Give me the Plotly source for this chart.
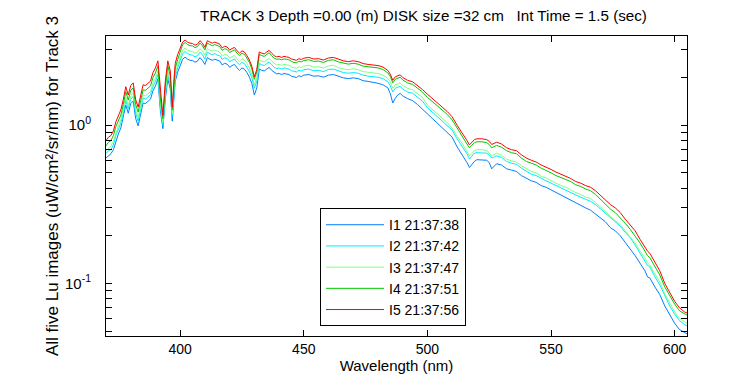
import math
import plotly.graph_objects as go

wavelength = [370, 371, 372, 373, 374, 375, 376, 377, 378, 379, 380, 381, 382, 383, 384, 385, 386, 387, 388, 389,
              390, 391, 392, 393, 394, 395, 396, 396.8, 397.5, 398, 399,
              400, 401, 402, 403, 404, 405, 406, 407, 408, 409, 410, 411, 412, 413, 414, 415, 416, 417, 418, 419,
              420, 421, 422, 423, 424, 425, 426, 427, 428, 429, 430, 431, 432, 433, 434, 435, 436, 437, 438, 439,
              440, 441, 442, 443, 444, 445, 446, 447, 448, 449, 450, 452, 454, 456, 458, 460, 462, 464, 466, 468,
              470, 472, 474, 476, 478, 480, 482, 484, 485, 486, 487, 488, 489, 490, 492, 494, 496, 498,
              500, 502, 504, 506, 508, 510, 512, 514, 515, 516, 517, 518, 519, 520, 522, 524, 525, 526, 527, 528,
              530, 532, 534, 536, 538, 540, 542, 544, 546, 548, 550, 552, 554, 556, 558, 560, 562, 564, 566, 568,
              570, 572, 574, 576, 578, 580, 582, 584, 586, 588, 589, 590, 592, 594, 596, 598, 600, 602, 604, 605]

i5 = [0.80, 0.84, 0.86, 0.92, 1.05, 1.15, 1.25, 1.45, 1.75, 1.55, 1.78, 1.85, 1.45, 1.30, 1.55, 1.80, 1.78, 1.85, 1.90, 2.15,
      2.30, 2.55, 1.60, 1.15, 1.90, 2.55, 2.20, 1.30, 1.95, 2.45, 2.80,
      3.05, 3.35, 3.45, 3.35, 3.30, 3.28, 3.20, 3.25, 3.42, 3.30, 3.10, 3.42, 3.35, 3.30, 3.35, 3.28, 3.25, 3.08, 3.15, 3.12,
      2.98, 3.05, 3.10, 2.95, 2.85, 2.95, 2.90, 2.75, 2.58, 2.35, 2.02, 2.25, 2.90, 2.85, 2.82, 2.90, 2.97, 2.85, 2.75, 2.70,
      2.72, 2.68, 2.72, 2.70, 2.68, 2.62, 2.58, 2.57, 2.63, 2.60, 2.65, 2.68, 2.62, 2.63, 2.58, 2.66, 2.68, 2.60, 2.55, 2.52,
      2.55, 2.52, 2.45, 2.42, 2.40, 2.38, 2.33, 2.22, 2.10, 1.92, 2.02, 2.05, 2.08, 2.00, 1.92, 1.88, 1.78, 1.68,
      1.57, 1.48, 1.38, 1.30, 1.22, 1.13, 1.00, 0.90, 0.85, 0.80, 0.75, 0.78, 0.81, 0.82, 0.82, 0.81, 0.79, 0.755, 0.77, 0.78,
      0.76, 0.72, 0.70, 0.69, 0.65, 0.62, 0.60, 0.585, 0.56, 0.545, 0.525, 0.505, 0.49, 0.475, 0.46, 0.44, 0.43, 0.415, 0.405, 0.385,
      0.36, 0.34, 0.315, 0.30, 0.28, 0.255, 0.235, 0.215, 0.19, 0.17, 0.16, 0.155, 0.135, 0.12, 0.10, 0.087, 0.077, 0.07, 0.066, 0.065]

i4 = [0.74, 0.78, 0.80, 0.86, 0.98, 1.07, 1.16, 1.35, 1.63, 1.44, 1.66, 1.72, 1.35, 1.21, 1.44, 1.67, 1.66, 1.72, 1.77, 2.00,
      2.14, 2.37, 1.49, 1.10, 1.77, 2.37, 2.05, 1.25, 1.81, 2.28, 2.60,
      2.94, 3.23, 3.33, 3.23, 3.18, 3.17, 3.09, 3.14, 3.30, 3.18, 2.99, 3.30, 3.23, 3.18, 3.23, 3.17, 3.14, 2.97, 3.04, 3.01,
      2.88, 2.94, 2.99, 2.85, 2.75, 2.85, 2.80, 2.65, 2.49, 2.27, 1.95, 2.17, 2.80, 2.75, 2.72, 2.80, 2.87, 2.75, 2.65, 2.61,
      2.62, 2.59, 2.62, 2.61, 2.59, 2.53, 2.49, 2.48, 2.54, 2.51, 2.56, 2.59, 2.53, 2.54, 2.49, 2.57, 2.59, 2.51, 2.46, 2.43,
      2.46, 2.43, 2.36, 2.34, 2.32, 2.30, 2.25, 2.14, 2.03, 1.85, 1.95, 1.98, 2.01, 1.93, 1.85, 1.81, 1.72, 1.62,
      1.50, 1.41, 1.32, 1.24, 1.17, 1.08, 0.955, 0.86, 0.81, 0.76, 0.72, 0.745, 0.775, 0.785, 0.785, 0.775, 0.755, 0.72, 0.735, 0.745,
      0.725, 0.69, 0.67, 0.66, 0.62, 0.59, 0.575, 0.56, 0.535, 0.52, 0.50, 0.48, 0.465, 0.45, 0.44, 0.42, 0.41, 0.395, 0.385, 0.365,
      0.34, 0.32, 0.295, 0.28, 0.26, 0.24, 0.22, 0.20, 0.18, 0.16, 0.15, 0.145, 0.127, 0.113, 0.095, 0.083, 0.074, 0.067, 0.064, 0.063]

i3 = [0.69, 0.72, 0.74, 0.79, 0.90, 0.99, 1.08, 1.25, 1.50, 1.33, 1.53, 1.59, 1.25, 1.12, 1.33, 1.55, 1.53, 1.59, 1.63, 1.85,
      1.98, 2.19, 1.38, 1.04, 1.63, 2.19, 1.89, 1.18, 1.68, 2.11, 2.41,
      2.71, 2.98, 3.07, 2.98, 2.94, 2.92, 2.85, 2.89, 3.04, 2.94, 2.76, 3.04, 2.98, 2.94, 2.98, 2.92, 2.89, 2.74, 2.80, 2.78,
      2.65, 2.71, 2.76, 2.63, 2.54, 2.63, 2.58, 2.45, 2.30, 2.09, 1.80, 2.00, 2.58, 2.54, 2.51, 2.58, 2.64, 2.54, 2.45, 2.40,
      2.42, 2.39, 2.42, 2.40, 2.39, 2.33, 2.30, 2.29, 2.34, 2.31, 2.36, 2.39, 2.33, 2.34, 2.30, 2.37, 2.39, 2.31, 2.27, 2.24,
      2.27, 2.24, 2.18, 2.15, 2.14, 2.12, 2.07, 1.98, 1.87, 1.71, 1.80, 1.82, 1.85, 1.78, 1.71, 1.67, 1.58, 1.50,
      1.34, 1.26, 1.17, 1.11, 1.04, 0.96, 0.85, 0.77, 0.72, 0.68, 0.64, 0.66, 0.69, 0.70, 0.70, 0.69, 0.67, 0.64, 0.655, 0.665,
      0.645, 0.61, 0.595, 0.585, 0.555, 0.53, 0.51, 0.50, 0.475, 0.465, 0.445, 0.43, 0.415, 0.405, 0.39, 0.375, 0.365, 0.35, 0.345, 0.325,
      0.305, 0.285, 0.265, 0.25, 0.235, 0.215, 0.195, 0.18, 0.16, 0.145, 0.135, 0.13, 0.115, 0.102, 0.086, 0.075, 0.066, 0.06, 0.057, 0.056]

i2 = [0.66, 0.69, 0.70, 0.75, 0.86, 0.94, 1.03, 1.19, 1.43, 1.27, 1.46, 1.52, 1.19, 1.06, 1.27, 1.48, 1.46, 1.52, 1.56, 1.76,
      1.89, 2.09, 1.31, 1.00, 1.56, 2.09, 1.80, 1.14, 1.60, 2.01, 2.30,
      2.58, 2.83, 2.92, 2.83, 2.79, 2.77, 2.70, 2.75, 2.89, 2.79, 2.62, 2.89, 2.83, 2.79, 2.83, 2.77, 2.75, 2.60, 2.66, 2.64,
      2.52, 2.58, 2.62, 2.49, 2.41, 2.49, 2.45, 2.32, 2.18, 1.99, 1.71, 1.90, 2.45, 2.41, 2.38, 2.45, 2.51, 2.41, 2.32, 2.28,
      2.30, 2.26, 2.30, 2.28, 2.26, 2.21, 2.18, 2.17, 2.22, 2.20, 2.24, 2.26, 2.21, 2.22, 2.18, 2.25, 2.26, 2.20, 2.15, 2.13,
      2.15, 2.13, 2.07, 2.04, 2.03, 2.01, 1.97, 1.88, 1.77, 1.62, 1.71, 1.73, 1.76, 1.69, 1.62, 1.59, 1.50, 1.42,
      1.29, 1.21, 1.13, 1.07, 1.00, 0.93, 0.82, 0.74, 0.70, 0.66, 0.61, 0.64, 0.665, 0.67, 0.67, 0.665, 0.65, 0.62, 0.63, 0.64,
      0.625, 0.59, 0.575, 0.565, 0.535, 0.51, 0.49, 0.48, 0.46, 0.445, 0.43, 0.415, 0.40, 0.39, 0.375, 0.36, 0.35, 0.34, 0.33, 0.315,
      0.295, 0.28, 0.26, 0.245, 0.23, 0.21, 0.195, 0.175, 0.155, 0.14, 0.13, 0.127, 0.11, 0.098, 0.083, 0.072, 0.064, 0.058, 0.055, 0.054]

i1 = [0.62, 0.64, 0.66, 0.70, 0.80, 0.88, 0.96, 1.11, 1.34, 1.19, 1.37, 1.42, 1.10, 0.99, 1.19, 1.38, 1.37, 1.42, 1.46, 1.65,
      1.77, 1.96, 1.23, 0.95, 1.46, 1.96, 1.69, 1.06, 1.50, 1.89, 2.16,
      2.38, 2.61, 2.69, 2.61, 2.57, 2.56, 2.50, 2.54, 2.67, 2.57, 2.42, 2.67, 2.61, 2.57, 2.61, 2.56, 2.54, 2.40, 2.46, 2.43,
      2.32, 2.38, 2.42, 2.30, 2.22, 2.30, 2.26, 2.15, 2.01, 1.83, 1.55, 1.72, 2.26, 2.22, 2.20, 2.26, 2.32, 2.22, 2.15, 2.11,
      2.12, 2.09, 2.12, 2.11, 2.09, 2.04, 2.01, 2.00, 2.05, 2.03, 2.07, 2.09, 2.04, 2.05, 2.01, 2.07, 2.09, 2.03, 1.99, 1.97,
      1.99, 1.97, 1.91, 1.89, 1.87, 1.84, 1.80, 1.72, 1.58, 1.38, 1.48, 1.55, 1.59, 1.53, 1.47, 1.43, 1.35, 1.26,
      1.17, 1.10, 1.02, 0.96, 0.90, 0.84, 0.73, 0.65, 0.62, 0.58, 0.54, 0.565, 0.59, 0.605, 0.605, 0.60, 0.58, 0.53, 0.55, 0.57,
      0.56, 0.53, 0.52, 0.51, 0.48, 0.46, 0.445, 0.435, 0.415, 0.405, 0.39, 0.375, 0.36, 0.345, 0.335, 0.32, 0.31, 0.30, 0.29, 0.275,
      0.26, 0.245, 0.225, 0.215, 0.20, 0.18, 0.165, 0.15, 0.135, 0.12, 0.11, 0.108, 0.095, 0.085, 0.072, 0.063, 0.056, 0.051, 0.049, 0.048]

series_names = ["I1 21:37:38", "I2 21:37:42", "I3 21:37:47", "I4 21:37:51", "I5 21:37:56"]
series_values = [i1, i2, i3, i4, i5]
series_colors = ["rgb(0,128,255)", "rgb(0,235,255)", "rgb(128,255,128)", "rgb(0,200,0)", "rgb(255,0,0)"]

x_ticks = [400, 450, 500, 550, 600]
y_ticks = [0.1, 1]
y_tick_text = ["10<sup>-1</sup>", "10<sup>0</sup>"]
y_minor = [0.05, 0.06, 0.07, 0.08, 0.09, 0.2, 0.3, 0.4, 0.5, 0.6, 0.7, 0.8, 0.9, 2, 3]

FONT = "Liberation Sans, Arial, sans-serif"

fig = go.Figure()
for name, vals, col in zip(series_names, series_values, series_colors):
    fig.add_trace(go.Scatter(x=wavelength, y=vals, mode="lines", name=name,
                             line=dict(color=col, width=1)))

fig.update_layout(
    width=750, height=375,
    margin=dict(l=98, r=71, t=28, b=43),
    paper_bgcolor="white", plot_bgcolor="white",
    font=dict(family=FONT, size=14, color="black"),
    title=dict(text="TRACK 3 Depth =0.00 (m) DISK size =32 cm\u00a0\u00a0\u00a0Int Time = 1.5 (sec)",
               xref="container", x=192 / 750, xanchor="left",
               yref="container", y=1 - 8 / 375, yanchor="middle",
               font=dict(size=15.2)),
    showlegend=True,
    legend=dict(x=(312 - 98) / 581, y=(332 - 322) / 304, xanchor="left", yanchor="bottom",
                bgcolor="white", bordercolor="black", borderwidth=1,
                font=dict(size=14), itemwidth=58, tracegroupgap=0),
)
fig.update_xaxes(range=[370, 605], tickvals=x_ticks, ticks="inside", ticklen=6, tickcolor="black",
                 showline=True, linecolor="black", linewidth=1, mirror="allticks",
                 showgrid=False, zeroline=False,
                 title=dict(text="Wavelength (nm)", standoff=4, font=dict(size=15)))
fig.update_yaxes(type="log", range=[math.log10(0.0465), math.log10(3.66)],
                 tickvals=y_ticks, ticktext=y_tick_text, ticks="inside", ticklen=6, tickcolor="black",
                 ticklabelstandoff=11, tickfont=dict(size=15),
                 minor=dict(tickvals=y_minor, ticks="inside", ticklen=6, tickcolor="black", showgrid=False),
                 showline=True, linecolor="black", linewidth=1, mirror="allticks",
                 showgrid=False, zeroline=False,
                 title=dict(text="All five Lu images (uW/cm\u00b2/sr/nm) for Track 3", standoff=2))

fig.write_html("out.html")
